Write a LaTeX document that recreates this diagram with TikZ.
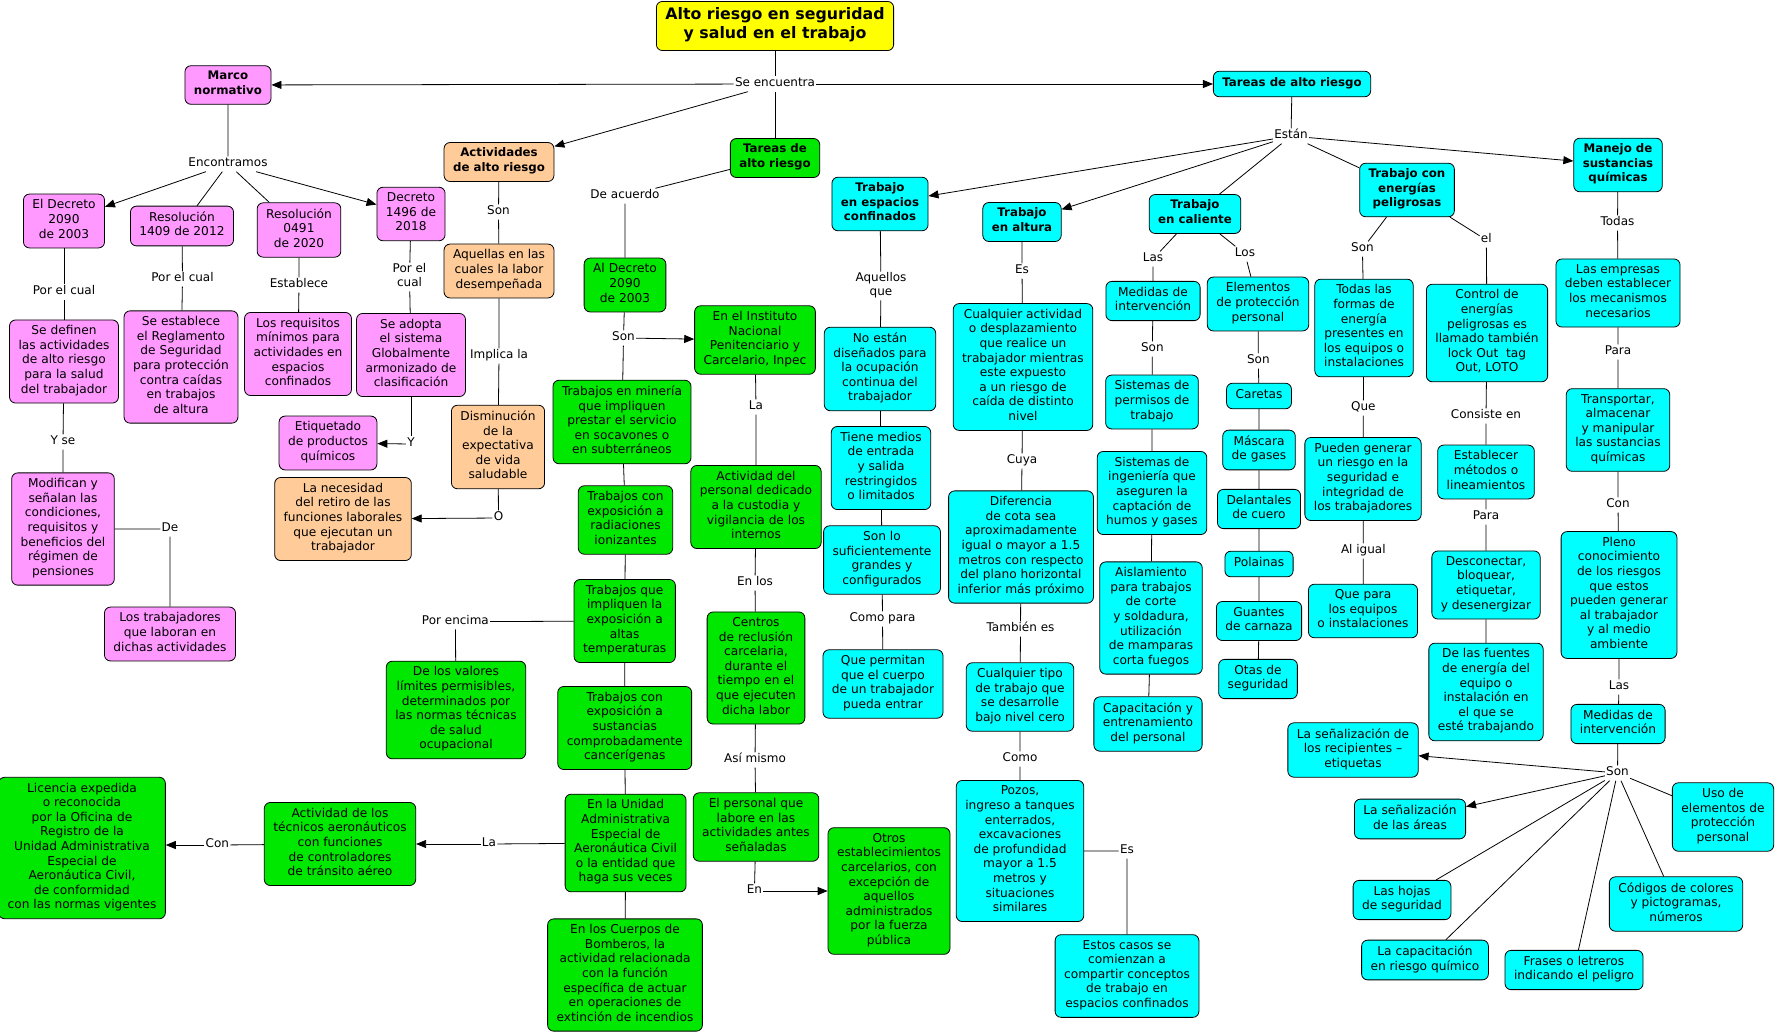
\documentclass[tikz,border=0pt]{standalone}
\usepackage{fontspec}
\setmainfont{DejaVu Sans}
\usetikzlibrary{arrows.meta}
\definecolor{rosa}{RGB}{255,153,255}
\definecolor{durazno}{RGB}{255,204,153}
\definecolor{verde}{RGB}{0,232,0}
\definecolor{celeste}{RGB}{0,255,255}
\definecolor{amarillo}{RGB}{255,255,0}
\begin{document}
\begin{tikzpicture}[x=1pt,y=-1pt,line width=0.8pt,
	concepto/.style={draw,rounded corners=6pt,align=center,inner xsep=9pt,inner ysep=5.5pt,font=\fontsize{12.2}{14.6}\selectfont,execute at begin node=\strut,execute at end node=\strut},
	negrita/.style={font=\fontsize{11.8}{14.6}\selectfont\bfseries},
	normabox/.style={concepto,fill=rosa},
	activbox/.style={concepto,fill=durazno},
	tareabox/.style={concepto,fill=verde},
	trabbox/.style={concepto,fill=celeste},
	titulo/.style={concepto,fill=amarillo,font=\fontsize{15.8}{19.3}\selectfont\bfseries,inner xsep=9pt,inner ysep=6pt},
	enlace/.style={inner xsep=1pt,inner ysep=0pt,align=center,font=\fontsize{12}{14.6}\selectfont,execute at begin node=\strut,execute at end node=\strut},
	flecha/.style={-{Triangle[length=10pt,width=8pt]}}]
	\useasboundingbox (0,0) rectangle (1776,1034);
	\node[titulo] (titulo) at (775,26) {Alto riesgo en seguridad\\y salud en el trabajo};
	\node[enlace] (seenc) at (775,84) {Se encuentra};
	\node[normabox,negrita] (marco) at (228,85) {Marco\\normativo};
	\node[trabbox,negrita] (tareasC) at (1292,84) {Tareas de alto riesgo};
	\node[activbox,negrita] (activ) at (499,162) {Actividades\\de alto riesgo};
	\node[tareabox,negrita] (tareasG) at (775,158) {Tareas de\\alto riesgo};
	\draw (titulo) -- (seenc) -- (tareasG);
	\draw[flecha] (seenc) -- (marco);
	\draw[flecha] (seenc) -- (tareasC);
	\draw[flecha] (seenc) -- (activ);
	\node[enlace] (encont) at (228,164) {Encontramos};
	\node[normabox] (dec2090) at (64,221) {El Decreto\\2090\\de 2003};
	\node[normabox] (res1409) at (182,226) {Resolución\\1409 de 2012};
	\node[normabox] (res0491) at (299,230) {Resolución\\0491\\de 2020};
	\node[normabox] (dec1496) at (411,214) {Decreto\\1496 de\\2018};
	\draw (marco) -- (encont) -- (res1409) (encont) -- (res0491);
	\draw[flecha] (encont) -- (dec2090);
	\draw[flecha] (encont) -- (dec1496);
	\node[enlace] (porcual1) at (64,292) {Por el cual};
	\node[enlace] (porcual2) at (182.5,279) {Por el cual};
	\node[enlace] (establece) at (299,285) {Establece};
	\node[enlace] (porcual3) at (409.5,277) {Por el\\cual};
	\node[normabox] (sedefinen) at (64,361.5) {Se definen\\las actividades\\de alto riesgo\\para la salud\\del trabajador};
	\node[normabox] (seestablece) at (181,367) {Se establece\\el Reglamento\\de Seguridad\\para protección\\contra caídas\\en trabajos\\de altura};
	\node[normabox] (requisitos) at (298,354) {Los requisitos\\mínimos para\\actividades en\\espacios\\confinados};
	\node[normabox] (seadopta) at (411,355) {Se adopta\\el sistema\\Globalmente\\armonizado de\\clasificación};
	\draw (dec2090) -- (porcual1) -- (sedefinen);
	\draw (res1409) -- (porcual2) -- (seestablece);
	\draw (res0491) -- (establece) -- (requisitos);
	\draw (dec1496) -- (porcual3) -- (seadopta);
	\node[enlace] (ylbl) at (411,444) {Y};
	\node[normabox] (etiquetado) at (328,443) {Etiquetado\\de productos\\químicos};
	\draw (seadopta) -- (ylbl);
	\draw[flecha] (ylbl) -- (etiquetado);
	\node[enlace] (yse) at (63,442) {Y se};
	\node[normabox] (modifican) at (63,529) {Modifican y\\señalan las\\condiciones,\\requisitos y\\beneficios del\\régimen de\\pensiones};
	\node[enlace] (delbl) at (170,529) {De};
	\node[normabox] (trabajadores) at (170,634) {Los trabajadores\\que laboran en\\dichas actividades};
	\draw (sedefinen) -- (yse) -- (modifican) -- (delbl) -- (trabajadores);
	\node[enlace] (son1) at (498.5,212) {Son};
	\node[activbox] (aquellas) at (499,271) {Aquellas en las\\cuales la labor\\desempeñada};
	\node[enlace] (implica) at (499,356) {Implica la};
	\node[activbox] (disminucion) at (498,447) {Disminución\\de la\\expectativa\\de vida\\saludable};
	\node[enlace] (olbl) at (498.5,518) {O};
	\node[activbox] (necesidad) at (343,519) {La necesidad\\del retiro de las\\funciones laborales\\que ejecutan un\\trabajador};
	\draw (activ) -- (son1) -- (aquellas) -- (implica) -- (disminucion) -- (olbl);
	\draw[flecha] (olbl) -- (necesidad);
	\node[enlace] (deacuerdo) at (625,196) {De acuerdo};
	\node[tareabox] (aldecreto) at (625,285) {Al Decreto\\2090\\de 2003};
	\node[enlace] (son2) at (623.5,338) {Son};
	\node[tareabox] (inpec) at (755,340) {En el Instituto\\Nacional\\Penitenciario y\\Carcelario, Inpec};
	\node[tareabox] (mineria) at (622,422) {Trabajos en minería\\que impliquen\\prestar el servicio\\en socavones o\\en subterráneos};
	\node[tareabox] (radiaciones) at (625.5,520) {Trabajos con\\exposición a\\radiaciones\\ionizantes};
	\node[tareabox] (temperaturas) at (624.7,621) {Trabajos que\\impliquen la\\exposición a\\altas\\temperaturas};
	\node[tareabox] (cancerigenas) at (624.7,728) {Trabajos con\\exposición a\\sustancias\\comprobadamente\\cancerígenas};
	\node[tareabox] (unidad) at (625.6,843) {En la Unidad\\Administrativa\\Especial de\\Aeronáutica Civil\\o la entidad que\\haga sus veces};
	\node[tareabox] (bomberos) at (625,975) {En los Cuerpos de\\Bomberos, la\\actividad relacionada\\con la función\\específica de actuar\\en operaciones de\\extinción de incendios};
	\draw (tareasG) -- (deacuerdo) -- (aldecreto) -- (son2) -- (mineria) -- (radiaciones) -- (temperaturas) -- (cancerigenas) -- (unidad) -- (bomberos);
	\draw[flecha] (son2) -- (inpec);
	\node[enlace] (porencima) at (455.4,621.7) {Por encima};
	\node[tareabox] (valores) at (456,710) {De los valores\\límites permisibles,\\determinados por\\las normas técnicas\\de salud\\ocupacional};
	\draw (temperaturas) -- (porencima) -- (valores);
	\node[enlace] (lalbl) at (489,844) {La};
	\node[tareabox] (tecnicos) at (340,844) {Actividad de los\\técnicos aeronáuticos\\con funciones\\de controladores\\de tránsito aéreo};
	\node[enlace] (conlbl) at (217.4,845) {Con};
	\node[tareabox] (licencia) at (82,848) {Licencia expedida\\o reconocida\\por la Oficina de\\Registro de la\\Unidad Administrativa\\Especial de\\Aeronáutica Civil,\\de conformidad\\con las normas vigentes};
	\draw (unidad) -- (lalbl);
	\draw[flecha] (lalbl) -- (tecnicos);
	\draw (tecnicos) -- (conlbl);
	\draw[flecha] (conlbl) -- (conlbl -| licencia.east);
	\node[enlace] (la2) at (756,407) {La};
	\node[tareabox] (custodia) at (756,507) {Actividad del\\personal dedicado\\a la custodia y\\vigilancia de los\\internos};
	\node[enlace] (enlos) at (755,583) {En los};
	\node[tareabox] (centros) at (756,668) {Centros\\de reclusión\\carcelaria,\\durante el\\tiempo en el\\que ejecuten\\dicha labor};
	\node[enlace] (asimismo) at (755,760) {Así mismo};
	\node[tareabox] (personal) at (756,827) {El personal que\\labore en las\\actividades antes\\señaladas};
	\node[enlace] (enlbl) at (754.4,891) {En};
	\node[tareabox] (otros) at (889,891) {Otros\\establecimientos\\carcelarios, con\\excepción de\\aquellos\\administrados\\por la fuerza\\pública};
	\draw (inpec) -- (la2) -- (custodia) -- (enlos) -- (centros) -- (asimismo) -- (personal) -- (enlbl);
	\draw[flecha] (enlbl) -- (otros);
	\node[enlace] (estan) at (1291,136) {Están};
	\node[trabbox,negrita] (confinados) at (880,204) {Trabajo\\en espacios\\confinados};
	\node[trabbox,negrita] (altura) at (1022,222) {Trabajo\\en altura};
	\node[trabbox,negrita] (caliente) at (1195,214) {Trabajo\\en caliente};
	\node[trabbox,negrita] (energias) at (1407,190) {Trabajo con\\energías\\peligrosas};
	\node[trabbox,negrita] (manejo) at (1618,165) {Manejo de\\sustancias\\químicas};
	\draw (tareasC) -- (estan) -- (caliente) (estan) -- (energias);
	\draw[flecha] (estan) -- (confinados);
	\draw[flecha] (estan) -- (altura);
	\draw[flecha] (estan) -- (manejo);
	\node[enlace] (aquellosque) at (881,286) {Aquellos\\que};
	\node[trabbox] (noestan) at (880,369) {No están\\diseñados para\\la ocupación\\continua del\\trabajador};
	\node[trabbox] (tienemedios) at (881,468) {Tiene medios\\de entrada\\y salida\\restringidos\\o limitados};
	\node[trabbox] (sonlo) at (882,560) {Son lo\\suficientemente\\grandes y\\configurados};
	\node[enlace] (comopara) at (882.5,619) {Como para};
	\node[trabbox] (permitan) at (883,684) {Que permitan\\que el cuerpo\\de un trabajador\\pueda entrar};
	\draw (confinados) -- (aquellosque) -- (noestan) -- (tienemedios) -- (sonlo) -- (comopara) -- (permitan);
	\node[enlace] (es1) at (1022,271) {Es};
	\node[trabbox] (cualquier) at (1023,367) {Cualquier actividad\\o desplazamiento\\que realice un\\trabajador mientras\\este expuesto\\a un riesgo de\\caída de distinto\\nivel};
	\node[enlace] (cuya) at (1022,461) {Cuya};
	\node[trabbox] (diferencia) at (1021,547) {Diferencia\\de cota sea\\aproximadamente\\igual o mayor a 1.5\\metros con respecto\\del plano horizontal\\inferior más próximo};
	\node[enlace] (tambien) at (1020.5,629) {También es};
	\node[trabbox] (tipo) at (1020,697) {Cualquier tipo\\de trabajo que\\se desarrolle\\bajo nivel cero};
	\node[enlace] (como) at (1020,759) {Como};
	\node[trabbox] (pozos) at (1020,851) {Pozos,\\ingreso a tanques\\enterrados,\\excavaciones\\de profundidad\\mayor a 1.5\\metros y\\situaciones\\similares};
	\node[enlace] (es2) at (1127,851) {Es};
	\node[trabbox] (estos) at (1127,976) {Estos casos se\\comienzan a\\compartir conceptos\\de trabajo en\\espacios confinados};
	\draw (altura) -- (es1) -- (cualquier) -- (cuya) -- (diferencia) -- (tambien) -- (tipo) -- (como) -- (pozos) -- (es2) -- (estos);
	\node[enlace] (las1) at (1153,259) {Las};
	\node[trabbox] (medidas1) at (1153,301) {Medidas de\\intervención};
	\node[enlace] (son3) at (1152.3,349) {Son};
	\node[trabbox] (permisos) at (1152,402) {Sistemas de\\permisos de\\trabajo};
	\node[trabbox] (ingenieria) at (1152,493) {Sistemas de\\ingeniería que\\aseguren la\\captación de\\humos y gases};
	\node[trabbox] (aislamiento) at (1151,618) {Aislamiento\\para trabajos\\de corte\\y soldadura,\\utilización\\de mamparas\\corta fuegos};
	\node[trabbox] (capacitacion) at (1148,724) {Capacitación y\\entrenamiento\\del personal};
	\draw (caliente) -- (las1) -- (medidas1) -- (son3) -- (permisos) -- (ingenieria) -- (aislamiento) -- (capacitacion);
	\node[enlace] (los1) at (1245,254) {Los};
	\node[trabbox] (epp) at (1258,304) {Elementos\\de protección\\personal};
	\node[enlace] (son4) at (1258.3,361) {Son};
	\node[trabbox] (caretas) at (1259,396) {Caretas};
	\node[trabbox] (mascara) at (1259,450) {Máscara\\de gases};
	\node[trabbox] (delantales) at (1259,509) {Delantales\\de cuero};
	\node[trabbox] (polainas) at (1259,564) {Polainas};
	\node[trabbox] (guantes) at (1259,621) {Guantes\\de carnaza};
	\node[trabbox] (otas) at (1258,679) {Otas de\\seguridad};
	\draw (caliente) -- (los1) -- (epp) -- (son4) -- (caretas) -- (mascara) -- (delantales) -- (polainas) -- (guantes) -- (otas);
	\node[enlace] (son5) at (1362.4,249) {Son};
	\node[trabbox] (formas) at (1364,328) {Todas las\\formas de\\energía\\presentes en\\los equipos o\\instalaciones};
	\node[enlace] (que) at (1363.3,408) {Que};
	\node[trabbox] (pueden) at (1363,479) {Pueden generar\\un riesgo en la\\seguridad e\\integridad de\\los trabajadores};
	\node[enlace] (aligual) at (1363.3,551) {Al igual};
	\node[trabbox] (quepara) at (1363,611) {Que para\\los equipos\\o instalaciones};
	\draw (energias) -- (son5) -- (formas) -- (que) -- (pueden) -- (aligual) -- (quepara);
	\node[enlace] (ellbl) at (1486.3,240) {el};
	\node[trabbox] (control) at (1487,333) {Control de\\energías\\peligrosas es\\llamado también\\lock Out~~tag\\Out, LOTO};
	\node[enlace] (consiste) at (1486,416) {Consiste en};
	\node[trabbox] (establecer) at (1486,472) {Establecer\\métodos o\\lineamientos};
	\node[enlace] (para1) at (1486,517) {Para};
	\node[trabbox] (desconectar) at (1486,585) {Desconectar,\\bloquear,\\etiquetar,\\y desenergizar};
	\node[trabbox] (fuentes) at (1486,692) {De las fuentes\\de energía del\\equipo o\\instalación en\\el que se\\esté trabajando};
	\draw (energias) -- (ellbl) -- (control) -- (consiste) -- (establecer) -- (para1) -- (desconectar) -- (fuentes);
	\node[enlace] (todas) at (1617.5,223) {Todas};
	\node[trabbox] (empresas) at (1618,293) {Las empresas\\deben establecer\\los mecanismos\\necesarios};
	\node[enlace] (para2) at (1618,352) {Para};
	\node[trabbox] (transportar) at (1618,430) {Transportar,\\almacenar\\y manipular\\las sustancias\\químicas};
	\node[enlace] (con2) at (1618,505) {Con};
	\node[trabbox] (pleno) at (1619,595) {Pleno\\conocimiento\\de los riesgos\\que estos\\pueden generar\\al trabajador\\y al medio\\ambiente};
	\node[enlace] (las2) at (1619,687) {Las};
	\node[trabbox] (medidas2) at (1618,724) {Medidas de\\intervención};
	\node[enlace] (son6) at (1617.5,773) {Son};
	\draw (manejo) -- (todas) -- (empresas) -- (para2) -- (transportar) -- (con2) -- (pleno) -- (las2) -- (medidas2) -- (son6);
	\node[trabbox] (recipientes) at (1353,750) {La señalización de\\los recipientes –\\etiquetas};
	\node[trabbox] (areas) at (1410,819) {La señalización\\de las áreas};
	\node[trabbox] (hojas) at (1402,900) {Las hojas\\de seguridad};
	\node[trabbox] (capquim) at (1425,960) {La capacitación\\en riesgo químico};
	\node[trabbox] (frases) at (1574,970) {Frases o letreros\\indicando el peligro};
	\node[trabbox] (codigos) at (1676,904) {Códigos de colores\\y pictogramas,\\números};
	\node[trabbox] (uso) at (1723,817) {Uso de\\elementos de\\protección\\personal};
	\draw[flecha] (son6) -- (recipientes);
	\draw[flecha] (son6) -- (areas);
	\draw (son6) -- (hojas) (son6) -- (capquim) (son6) -- (frases) (son6) -- (codigos) (son6) -- (uso);
\end{tikzpicture}
\end{document}
